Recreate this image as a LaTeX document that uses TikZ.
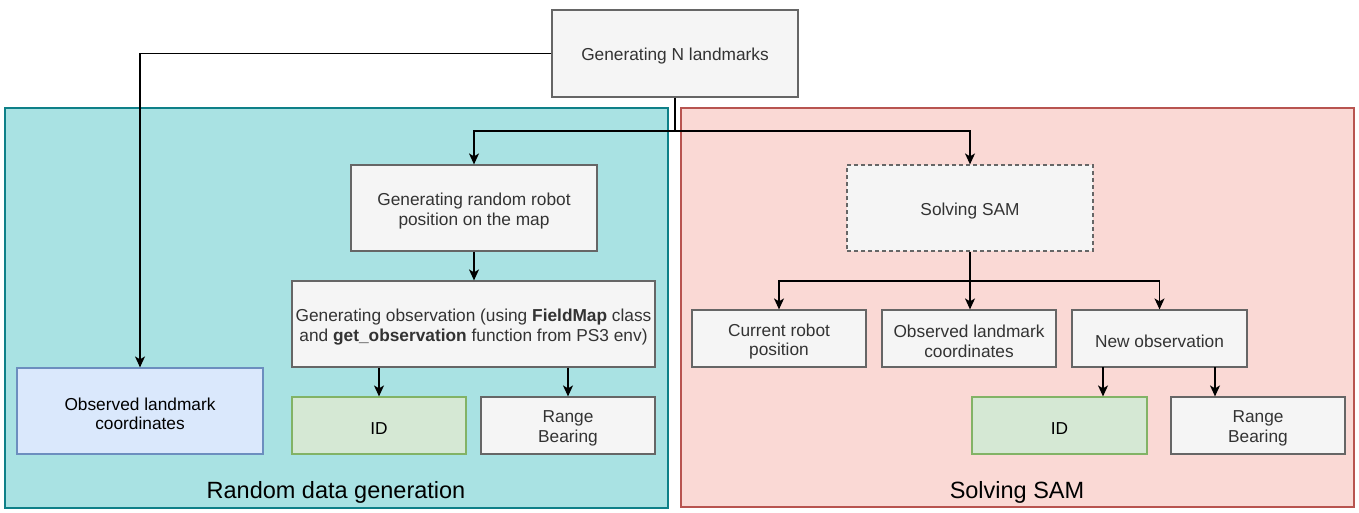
\documentclass[tikz,border=0pt]{standalone}
\usepackage{fontspec}
\setmainfont{Liberation Sans}
\usetikzlibrary{arrows.meta,calc}
\definecolor{boxfill}{HTML}{F5F5F5}
\definecolor{boxline}{HTML}{666666}
\definecolor{boxtext}{HTML}{333333}
\definecolor{tealfill}{HTML}{A9E2E3}
\definecolor{tealline}{HTML}{0E8088}
\definecolor{redfill}{HTML}{FAD9D5}
\definecolor{redline}{HTML}{B85450}
\definecolor{bluefill}{HTML}{DAE8FC}
\definecolor{blueline}{HTML}{6C8EBF}
\definecolor{greenfill}{HTML}{D5E8D4}
\definecolor{greenline}{HTML}{82B366}
\tikzset{
  stepbox/.style={draw=boxline, fill=boxfill, line width=1.2pt, rectangle, inner sep=0pt},
  bluebox/.style={stepbox, draw=blueline, fill=bluefill},
  greenbox/.style={stepbox, draw=greenline, fill=greenfill},
  txt/.style={text=boxtext, inner sep=0pt, align=center, font=\fontsize{17.3}{19.5}\selectfont},
  dtxt/.style={txt, text=black},
  tealcont/.style={draw=tealline, fill=tealfill, line width=1.2pt, rectangle, inner sep=0pt},
  redcont/.style={draw=redline, fill=redfill, line width=1.2pt, rectangle, inner sep=0pt},
  contlabel/.style={font=\fontsize{23.5}{28}\selectfont, text=black, inner sep=0pt, anchor=base},
  conn/.style={draw=black, line width=1.4pt},
  arr/.style={conn, -{Stealth[length=11pt,width=10pt,inset=3pt]}},
}
\begin{document}
\begin{tikzpicture}[x=1pt,y=-1pt]
\useasboundingbox (0,0) rectangle (1359,512);
\fill[white] (0,0) rectangle (1359,512);
% containers
\node[tealcont, minimum width=663pt, minimum height=400pt] (c1) at (336.5,308) {};
\node[redcont, minimum width=673pt, minimum height=399pt] (c2) at (1017.5,307.5) {};
\node[contlabel] (l1) at (336,498) {Random data generation};
\node[contlabel] (l2) at (1017,498) {Solving SAM};
% boxes
\node[stepbox, minimum width=246pt, minimum height=87pt] (top) at (675,53.5) {};
\node[stepbox, minimum width=246pt, minimum height=86pt] (robot) at (474,208) {};
\node[stepbox, minimum width=363pt, minimum height=86pt] (obsgen) at (473.5,324) {};
\node[greenbox, minimum width=174pt, minimum height=57pt] (id1) at (379,425.5) {};
\node[stepbox, minimum width=174pt, minimum height=57pt] (rb1) at (568,425.5) {};
\node[bluebox, minimum width=246pt, minimum height=86pt] (obsl) at (140,411) {};
\node[stepbox, dash pattern=on 4pt off 3pt, minimum width=246pt, minimum height=86pt] (sam) at (970,208) {};
\node[stepbox, minimum width=174pt, minimum height=57pt] (cur) at (779,338.5) {};
\node[stepbox, minimum width=174pt, minimum height=57pt] (obsr) at (969,338.5) {};
\node[stepbox, minimum width=175pt, minimum height=57pt] (new) at (1159.5,338.5) {};
\node[greenbox, minimum width=175pt, minimum height=57pt] (id2) at (1059.5,425.5) {};
\node[stepbox, minimum width=174pt, minimum height=57pt] (rb2) at (1258,425.5) {};
% texts
\node[txt] (top-t) at ([yshift=-3pt]top.center) {Generating N landmarks};
\node[txt] (robot-t) at ([yshift=-3pt]robot.center) {Generating random robot\\position on the map};
\node[txt] (obsgen-t) at ([yshift=-3pt]obsgen.center) {Generating observation (using \textbf{FieldMap} class\\and \textbf{get\_observation} function from PS3 env)};
\node[dtxt] (id1-t) at ([yshift=-3pt]id1.center) {ID};
\node[txt] (rb1-t) at ([yshift=-3pt]rb1.center) {Range\\Bearing};
\node[dtxt] (obsl-t) at ([yshift=-3pt]obsl.center) {Observed landmark\\coordinates};
\node[txt] (sam-t) at ([yshift=-3pt]sam.center) {Solving SAM};
\node[txt] (cur-t) at ([yshift=-3pt]cur.center) {Current robot\\position};
\node[txt] (obsr-t) at ([yshift=-3pt]obsr.center) {Observed landmark\\coordinates};
\node[txt] (new-t) at ([yshift=-3pt]new.center) {New observation};
\node[dtxt] (id2-t) at ([yshift=-3pt]id2.center) {ID};
\node[txt] (rb2-t) at ([yshift=-3pt]rb2.center) {Range\\Bearing};
% connectors
\coordinate (j1) at (675,131);
\coordinate (j2) at (970,281);
\coordinate (a1) at (1103,367);
\coordinate (a2) at (1215,367);
\draw[arr] (top.west) -| (obsl.north);
\draw[conn] (top.south) -- (j1);
\draw[arr] (j1) -| (robot.north);
\draw[arr] (j1) -| (sam.north);
\draw[arr] (robot.south) -- (robot.south |- obsgen.north);
\draw[arr] (id1.north |- obsgen.south) -- (id1.north);
\draw[arr] (rb1.north |- obsgen.south) -- (rb1.north);
\draw[conn] (sam.south) -- (j2);
\draw[arr] (j2) -| (cur.north);
\draw[arr] (j2) -| (new.north);
\draw[arr] (j2) -- (j2 |- obsr.north);
\draw[arr] (a1) -- (a1 |- id2.north);
\draw[arr] (a2) -- (a2 |- rb2.north);
\end{tikzpicture}
\end{document}
